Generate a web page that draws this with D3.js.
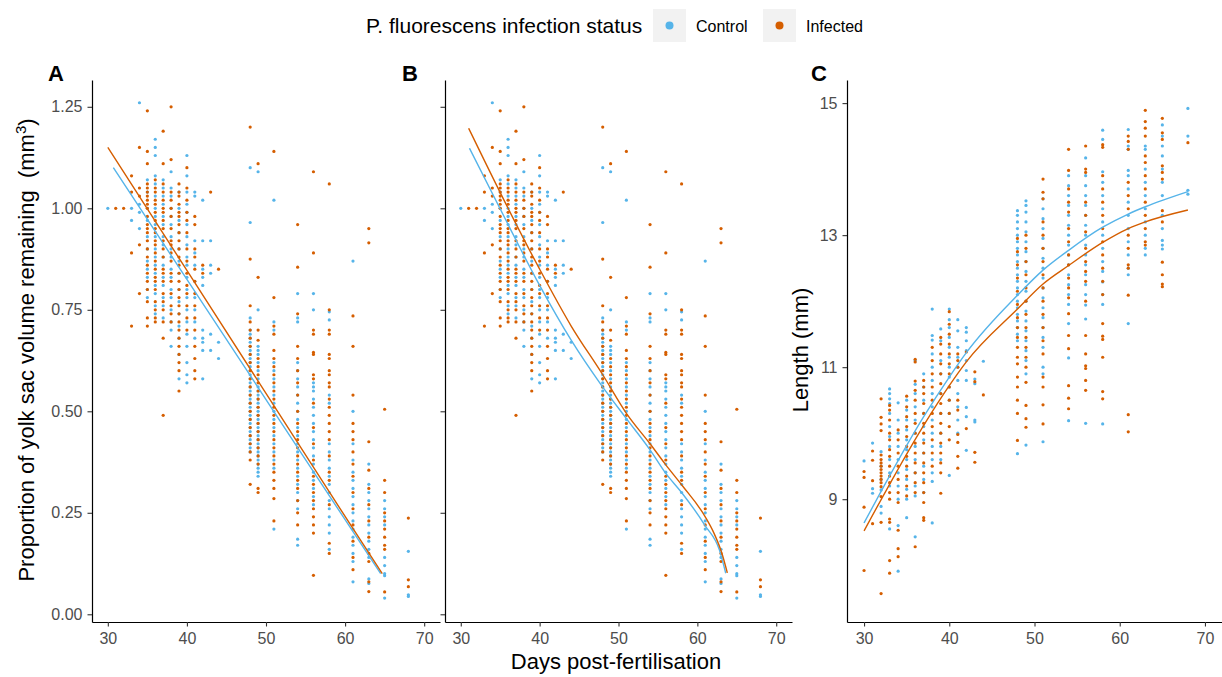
<!DOCTYPE html>
<html>
<head>
<meta charset="utf-8">
<script src="https://cdn.jsdelivr.net/npm/d3@7"></script>
<style>
  html, body { margin: 0; padding: 0; background: #ffffff; }
  svg { display: block; font-family: "Liberation Sans", Arial, sans-serif; }
</style>
</head>
<body>
<svg id="chart" width="1222" height="677"></svg>
<script>
// Sampling days (days post-fertilisation)
const days = [30, 31, 32, 33, 34, 35, 36, 37, 38, 39, 40, 41, 42, 43, 44, 48, 49, 51, 54, 56, 58, 61, 63, 65, 68];

// Proportion of yolk sac remaining, one list per sampling day
const yolkControl = [
  [1.00], [], [], [1.00, 0.97], [1.26, 1.01, 0.99, 0.95],
  [1.07, 1.04, 1.00, 0.97, 0.93, 0.90, 0.87, 0.85, 0.83, 0.80, 0.78],
  [1.17, 1.15, 1.13, 1.08, 1.06, 1.03, 1.00, 0.98, 0.96, 0.93, 0.90, 0.88, 0.86, 0.84, 0.81, 0.79, 0.76, 0.74],
  [1.07, 1.05, 1.03, 1.01, 0.98, 0.96, 0.93, 0.91, 0.88, 0.86, 0.83, 0.81, 0.78, 0.76, 0.73],
  [1.09, 1.05, 1.03, 1.00, 0.98, 0.96, 0.93, 0.90, 0.88, 0.85, 0.83, 0.80, 0.78, 0.75, 0.72, 0.70, 0.66],
  [1.04, 1.00, 0.97, 0.94, 0.90, 0.87, 0.84, 0.80, 0.77, 0.74, 0.71, 0.68, 0.64, 0.58],
  [1.13, 1.08, 1.04, 1.01, 0.99, 0.96, 0.93, 0.91, 0.88, 0.86, 0.83, 0.80, 0.78, 0.75, 0.72, 0.69, 0.66, 0.62, 0.59, 0.57],
  [1.04, 1.03, 0.92, 0.89, 0.86, 0.82, 0.78, 0.75, 0.72, 0.68],
  [1.02, 0.92, 0.85, 0.83, 0.81, 0.70, 0.68, 0.67, 0.65, 0.58],
  [0.92, 0.86, 0.84, 0.69, 0.65],
  [0.67, 0.63],
  [1.10, 0.965, 0.73, 0.70, 0.69, 0.68, 0.67, 0.66, 0.65, 0.64, 0.63, 0.62, 0.61, 0.60, 0.59, 0.58, 0.57, 0.56, 0.55, 0.54, 0.53, 0.52, 0.51, 0.50, 0.49, 0.48, 0.47, 0.46, 0.45, 0.44, 0.43, 0.42, 0.41, 0.40],
  [1.09, 0.75, 0.66, 0.65, 0.64, 0.62, 0.60, 0.58, 0.56, 0.55, 0.54, 0.53, 0.52, 0.51, 0.50, 0.49, 0.48, 0.47, 0.46, 0.45, 0.44, 0.43, 0.42, 0.41, 0.40, 0.39, 0.38, 0.37, 0.36, 0.35, 0.34],
  [1.02, 0.72, 0.70, 0.62, 0.60, 0.58, 0.56, 0.54, 0.52, 0.50, 0.48, 0.46, 0.44, 0.42, 0.40, 0.38, 0.36, 0.21],
  [0.79, 0.73, 0.72, 0.62, 0.60, 0.58, 0.56, 0.54, 0.52, 0.50, 0.48, 0.46, 0.44, 0.42, 0.40, 0.38, 0.36, 0.34, 0.32, 0.30, 0.28, 0.26, 0.185, 0.17],
  [0.79, 0.75, 0.57, 0.56, 0.55, 0.53, 0.51, 0.49, 0.47, 0.45, 0.43, 0.41, 0.39, 0.37, 0.35, 0.33, 0.31, 0.29, 0.27],
  [0.745, 0.725, 0.54, 0.52, 0.42, 0.40, 0.38, 0.36, 0.34, 0.32, 0.30, 0.28, 0.26, 0.24, 0.22, 0.20, 0.16],
  [0.87, 0.50, 0.42, 0.38, 0.35, 0.33, 0.31, 0.29, 0.27, 0.25, 0.23, 0.21, 0.19, 0.17, 0.15, 0.13, 0.08],
  [0.37, 0.32, 0.30, 0.28, 0.26, 0.24, 0.22, 0.20, 0.18, 0.16, 0.14, 0.087, 0.076],
  [0.28, 0.26, 0.24, 0.22, 0.14, 0.12, 0.10, 0.095, 0.04],
  [0.155, 0.048, 0.044]
];
const yolkInfected = [
  [], [1.00], [1.00], [1.08, 1.04, 0.89, 0.71], [1.15, 1.05, 1.03, 0.91, 0.79],
  [1.24, 1.14, 1.11, 1.06, 1.05, 1.04, 1.03, 1.02, 1.01, 1.00, 0.98, 0.96, 0.95, 0.94, 0.92, 0.90, 0.88, 0.86, 0.84, 0.82, 0.80, 0.77, 0.73, 0.71],
  [1.07, 1.05, 1.04, 1.02, 1.01, 0.99, 0.97, 0.95, 0.94, 0.92, 0.91, 0.89, 0.87, 0.85, 0.83, 0.82, 0.80, 0.77, 0.75, 0.73, 0.72],
  [1.19, 1.11, 1.06, 1.04, 1.02, 1.00, 0.99, 0.97, 0.95, 0.92, 0.90, 0.88, 0.85, 0.84, 0.82, 0.79, 0.77, 0.75, 0.72, 0.68, 0.49],
  [1.25, 1.12, 1.04, 1.02, 1.00, 0.98, 0.95, 0.92, 0.91, 0.89, 0.87, 0.84, 0.82, 0.79, 0.76, 0.74, 0.72],
  [1.06, 1.04, 1.03, 1.01, 0.99, 0.98, 0.96, 0.94, 0.92, 0.90, 0.88, 0.86, 0.84, 0.82, 0.80, 0.78, 0.76, 0.74, 0.72, 0.70, 0.68, 0.66, 0.64, 0.62, 0.60, 0.55],
  [1.10, 1.05, 1.02, 0.99, 0.97, 0.94, 0.90, 0.87, 0.84, 0.81, 0.79, 0.76, 0.73, 0.70],
  [0.98, 0.96, 0.90, 0.88, 0.85, 0.82, 0.79, 0.76, 0.73, 0.70, 0.66, 0.63, 0.60, 0.58],
  [0.86, 0.84],
  [1.04],
  [0.85],
  [1.20, 0.875, 0.76, 0.72, 0.70, 0.68, 0.66, 0.64, 0.62, 0.60, 0.58, 0.56, 0.54, 0.52, 0.50, 0.48, 0.46, 0.44, 0.42, 0.40, 0.38, 0.32],
  [1.11, 0.83, 0.70, 0.675, 0.63, 0.61, 0.59, 0.57, 0.55, 0.53, 0.51, 0.49, 0.47, 0.45, 0.43, 0.41, 0.39, 0.37, 0.31, 0.30],
  [1.14, 0.78, 0.71, 0.69, 0.65, 0.63, 0.61, 0.59, 0.57, 0.55, 0.53, 0.51, 0.49, 0.47, 0.45, 0.43, 0.41, 0.39, 0.37, 0.35, 0.33, 0.31, 0.285, 0.23],
  [0.96, 0.855, 0.74, 0.66, 0.63, 0.60, 0.57, 0.54, 0.50, 0.47, 0.45, 0.43, 0.41, 0.39, 0.37, 0.35, 0.33, 0.31, 0.28, 0.25, 0.22],
  [1.09, 0.89, 0.70, 0.69, 0.645, 0.64, 0.59, 0.58, 0.52, 0.46, 0.42, 0.38, 0.34, 0.32, 0.30, 0.28, 0.26, 0.24, 0.22, 0.20, 0.096],
  [1.06, 0.75, 0.70, 0.69, 0.64, 0.63, 0.60, 0.59, 0.57, 0.56, 0.53, 0.51, 0.49, 0.47, 0.45, 0.43, 0.39, 0.35, 0.33, 0.27, 0.175, 0.15],
  [0.735, 0.66, 0.54, 0.47, 0.45, 0.43, 0.40, 0.37, 0.34, 0.30, 0.26, 0.22, 0.18, 0.14, 0.11],
  [0.95, 0.915, 0.425, 0.355, 0.31, 0.27, 0.23, 0.19, 0.15, 0.13, 0.08, 0.056],
  [0.505, 0.33, 0.30, 0.25, 0.23, 0.21, 0.19, 0.17, 0.16, 0.055],
  [0.237, 0.085, 0.068]
];

// Body length (mm), one list per sampling day
const lengthControl = [
  [9.58], [9.85, 9.16, 9.09], [9.72, 9.50, 9.30, 9.14, 8.89, 8.79],
  [10.67, 10.60, 10.52, 10.45, 10.30, 10.10, 9.95, 9.80, 9.60, 9.40, 9.20, 8.55],
  [10.46, 10.20, 10.00, 9.80, 9.60, 9.40, 9.20, 9.00, 8.60, 7.91],
  [10.50, 10.35, 10.20, 10.05, 9.90, 9.75, 9.60, 9.45, 9.30, 9.15, 9.00, 8.72],
  [11.10, 10.74, 10.60, 10.40, 10.20, 10.00, 9.80, 9.60, 9.40, 9.20, 9.05, 8.43],
  [10.90, 10.70, 10.50, 10.30, 10.10, 9.90, 9.70, 9.50, 9.30, 9.10],
  [11.88, 11.48, 11.41, 11.20, 11.00, 10.80, 10.60, 10.40, 10.20, 10.00, 9.80, 9.60, 9.40, 9.27, 8.64],
  [11.58, 11.40, 11.10, 10.90, 10.60, 10.30, 10.00, 9.80, 9.60],
  [11.88, 11.72, 11.60, 11.45, 11.30, 11.15, 11.00, 10.85, 10.70, 10.50, 10.30, 9.36],
  [11.72, 11.55, 11.30, 11.15, 11.00, 10.80, 10.60, 10.40, 10.20, 10.00],
  [11.60, 11.53, 11.40, 11.25, 11.10, 10.95, 10.80, 10.39, 10.25, 9.74],
  [10.82, 10.75, 10.20, 10.17],
  [11.09],
  [13.37, 13.30, 13.20, 13.10, 13.00, 12.90, 12.80, 12.70, 12.60, 12.50, 12.40, 12.30, 12.20, 12.10, 12.00, 11.90, 11.80, 11.70, 11.60, 11.50, 11.40, 9.69],
  [13.52, 13.45, 13.35, 13.20, 13.05, 12.90, 12.75, 12.60, 12.45, 12.30, 12.15, 12.00, 11.85, 11.70, 11.55, 11.40, 11.25, 11.10, 10.90, 9.82],
  [13.55, 13.40, 13.25, 13.10, 12.95, 12.80, 12.65, 12.50, 12.35, 12.20, 12.05, 11.90, 11.75, 11.60, 11.45, 11.30, 11.00, 10.90, 9.87],
  [13.90, 13.75, 13.60, 13.45, 13.30, 13.15, 13.00, 12.85, 12.70, 12.55, 12.40, 12.25, 12.10, 11.95, 11.66, 11.14, 10.19],
  [14.17, 13.90, 13.75, 13.60, 13.45, 13.30, 13.15, 13.00, 12.85, 12.70, 12.55, 12.40, 12.25, 12.10, 11.94, 11.73, 10.15],
  [14.59, 14.45, 13.96, 13.80, 13.60, 13.40, 13.20, 13.00, 12.80, 12.60, 12.45, 12.29, 12.10, 11.95, 10.14],
  [14.60, 14.35, 14.30, 13.98, 13.90, 13.70, 13.50, 13.30, 13.10, 12.90, 12.70, 12.50, 12.40, 11.66],
  [14.35, 14.30, 14.00, 13.80, 13.60, 13.40, 13.20, 13.00, 12.80, 12.70],
  [14.67, 14.50, 14.35, 14.20, 14.00, 13.80, 13.60, 13.30, 13.10, 12.92, 12.85, 12.79],
  [14.92, 14.50, 13.68, 13.62]
];
const lengthInfected = [
  [9.42, 9.33, 8.88, 7.92], [9.73, 9.59, 9.28, 8.63],
  [10.52, 10.24, 10.14, 10.04, 9.67, 9.60, 9.55, 9.50, 9.45, 9.40, 9.35, 9.30, 9.25, 9.19, 9.04, 8.65, 7.57],
  [10.42, 10.35, 10.20, 10.00, 9.90, 9.75, 9.65, 9.50, 9.35, 9.25, 9.10, 9.00, 8.70, 8.65, 8.07, 7.88],
  [10.05, 9.90, 9.70, 9.50, 9.30, 9.10, 8.95, 8.53, 8.25, 8.13],
  [10.56, 10.40, 10.25, 10.10, 9.95, 9.80, 9.65, 9.50, 9.35, 9.20, 9.05],
  [11.12, 11.08, 10.79, 10.65, 10.50, 10.30, 10.15, 10.00, 9.85, 9.70, 9.55, 9.40, 9.25, 9.10, 8.28],
  [10.80, 10.70, 10.60, 10.45, 10.30, 10.15, 10.00, 9.85, 9.70, 9.55, 9.40, 9.25, 9.10, 8.95, 8.72, 8.68],
  [11.30, 11.10, 10.90, 10.70, 10.50, 10.30, 10.10, 9.90, 9.70, 9.50],
  [11.45, 11.35, 11.20, 11.05, 10.90, 10.75, 10.60, 10.45, 10.30, 10.15, 10.00, 9.85, 9.70, 9.55, 9.40, 9.09],
  [11.84, 11.65, 11.50, 11.35, 11.20, 11.05, 10.90, 10.70, 10.50, 10.30, 10.10, 9.90],
  [11.20, 11.10, 11.00, 10.50, 10.35, 9.98, 9.86, 9.65, 9.47],
  [11.23, 10.07],
  [10.93, 10.78, 9.71, 9.56],
  [10.58],
  [12.95, 12.75, 12.55, 12.35, 12.15, 11.95, 11.75, 11.60, 11.45, 11.30, 11.15, 11.05, 10.85, 10.70, 10.50, 10.30, 9.89],
  [13.00, 12.80, 12.60, 12.40, 12.20, 12.00, 11.80, 11.60, 11.45, 11.30, 11.15, 11.00, 10.77, 10.42, 10.22, 10.09],
  [13.85, 13.65, 13.55, 13.20, 13.00, 12.80, 12.60, 12.40, 12.20, 12.00, 11.80, 11.60, 11.40, 11.20, 10.85, 10.70, 10.43, 10.14],
  [14.30, 13.98, 13.70, 13.50, 13.35, 13.10, 12.90, 12.70, 12.55, 12.35, 12.20, 12.05, 11.81, 11.48, 11.28, 10.72, 10.53, 10.37],
  [14.35, 14.00, 13.95, 13.50, 13.30, 13.05, 12.80, 12.60, 12.45, 12.30, 12.00, 11.48, 11.20, 11.02, 10.98, 10.80, 10.65],
  [14.37, 14.33, 13.90, 13.70, 13.50, 13.30, 13.10, 12.90, 12.70, 12.50, 12.30, 12.10, 11.66, 11.47, 11.42, 11.15, 10.63, 10.52],
  [14.50, 14.42, 14.30, 13.80, 13.60, 13.40, 13.00, 12.80, 12.55, 12.50, 12.09, 10.28, 10.02],
  [14.89, 14.72, 14.62, 14.50, 14.20, 14.10, 13.90, 13.70, 13.50, 13.30, 13.10, 12.90, 12.85],
  [14.77, 14.55, 14.45, 14.05, 13.95, 13.85, 13.37, 13.20, 12.59, 12.40, 12.26, 12.22],
  [14.40]
];

// Fitted trends: [day, predicted value]
const fitA_control  = [[30.7, 1.10], [40, 0.825], [50, 0.529], [60, 0.233], [64.5, 0.10]];
const fitA_infected = [[30.0, 1.15], [40, 0.847], [50, 0.544], [60, 0.241], [64.7, 0.10]];
const fitB_control  = [[31.1, 1.148], [36, 0.96], [40, 0.81], [44, 0.675], [47.8, 0.565], [51, 0.482], [54, 0.405], [56, 0.347], [58, 0.30], [61, 0.218], [62.8, 0.158], [63.6, 0.101]];
const fitB_infected = [[31.0, 1.197], [36, 1.0], [40, 0.85], [44, 0.71], [48, 0.59], [51, 0.495], [54, 0.42], [56, 0.368], [58, 0.319], [61, 0.24], [62.1, 0.20], [63.1, 0.151], [63.8, 0.102]];
const fitC_control  = [[30, 8.64], [37, 10.25], [40, 10.85], [42, 11.22], [48, 12.09], [51, 12.47], [54, 12.77], [58, 13.12], [61, 13.32], [63, 13.43], [68, 13.66]];
const fitC_infected = [[30, 8.52], [37, 10.12], [40, 10.72], [42, 11.08], [48, 11.88], [51, 12.26], [54, 12.54], [58, 12.89], [61, 13.10], [63, 13.20], [68, 13.38]];

const xTicks = [30, 40, 50, 60, 70];
const yolkTicks = [0, 0.25, 0.5, 0.75, 1.0, 1.25];
const lengthTicks = [9, 11, 13, 15];

const groups = ["Control", "Infected"];
const colour = d3.scaleOrdinal().domain(groups).range(["#56B4E9", "#D55E00"]);

const svg = d3.select("#chart");
svg.append("rect").attr("width", 1222).attr("height", 677).attr("fill", "#ffffff");

// flatten per-day lists into point records, day by day
function toPoints(ctrl, inf) {
  const out = [];
  days.forEach((d, i) => {
    ctrl[i].forEach(v => out.push({ day: d, value: v, group: "Control" }));
    inf[i].forEach(v => out.push({ day: d, value: v, group: "Infected" }));
  });
  return out;
}
const yolkPoints = toPoints(yolkControl, yolkInfected);
const lengthPoints = toPoints(lengthControl, lengthInfected);

const panelTop = 80, panelBottom = 622;
const panels = [
  { id: "A", left: 92, right: 440, yDomain: [-0.019, 1.316], ticks: yolkTicks, fmt: d3.format(".2f"), labels: true,
    data: yolkPoints, fits: [fitA_control, fitA_infected], curve: d3.curveLinear, tagX: 48 },
  { id: "B", left: 445, right: 792, yDomain: [-0.019, 1.316], ticks: yolkTicks, fmt: d3.format(".2f"), labels: false,
    data: yolkPoints, fits: [fitB_control, fitB_infected], curve: d3.curveMonotoneX, tagX: 402 },
  { id: "C", left: 847, right: 1222, yDomain: [7.14, 15.35], ticks: lengthTicks, fmt: d3.format("d"), labels: true,
    data: lengthPoints, fits: [fitC_control, fitC_infected], curve: d3.curveMonotoneX, tagX: 811 }
];

panels.forEach(p => {
  const x = d3.scaleLinear().domain([28, 72]).range([p.left, p.right]);
  const y = d3.scaleLinear().domain(p.yDomain).range([panelBottom, panelTop]);
  const g = svg.append("g");

  // scatter
  g.append("g").selectAll("circle").data(p.data).join("circle")
    .attr("cx", d => x(d.day)).attr("cy", d => y(d.value))
    .attr("r", 1.6).attr("fill", d => colour(d.group));

  // fitted trends
  const line = d3.line().x(d => x(d[0])).y(d => y(d[1])).curve(p.curve);
  p.fits.forEach((f, i) => {
    g.append("path").datum(f).attr("d", line)
      .attr("fill", "none").attr("stroke", colour(groups[i])).attr("stroke-width", 1.4);
  });

  // axes
  const xa = g.append("g").attr("transform", `translate(0,${panelBottom})`)
    .call(d3.axisBottom(x).tickValues(xTicks).tickSize(4.5).tickSizeOuter(0).tickPadding(6));
  const ya = g.append("g").attr("transform", `translate(${p.left},0)`)
    .call(d3.axisLeft(y).tickValues(p.ticks).tickFormat(p.labels ? p.fmt : "").tickSize(4.5).tickSizeOuter(0).tickPadding(5));
  [xa, ya].forEach(a => {
    a.select(".domain").attr("stroke", "#000").attr("stroke-width", 1.2);
    a.selectAll(".tick line").attr("stroke", "#333").attr("stroke-width", 1.1);
    a.selectAll(".tick text").attr("fill", "#4D4D4D").style("font-size", "16px")
      .style("font-family", "'Liberation Sans', Arial, sans-serif");
  });

  // panel tag
  svg.append("text").attr("x", p.tagX).attr("y", 81).text(p.id)
    .style("font-size", "22px").style("font-weight", "bold").attr("fill", "#000");
});

// axis titles
svg.append("text").attr("x", 616).attr("y", 669).attr("text-anchor", "middle")
  .style("font-size", "22px").attr("fill", "#000").text("Days post-fertilisation");

const yt = svg.append("text").attr("transform", "translate(34,350) rotate(-90)")
  .attr("text-anchor", "middle").style("font-size", "22px").attr("fill", "#000")
  .attr("xml:space", "preserve");
yt.append("tspan").text("Proportion of yolk sac volume remaining  (mm");
yt.append("tspan").attr("baseline-shift", "super").style("font-size", "15px").text("3");
yt.append("tspan").text(")");

svg.append("text").attr("transform", "translate(808,350) rotate(-90)")
  .attr("text-anchor", "middle").style("font-size", "22px").attr("fill", "#000").text("Length (mm)");

// legend
const legend = svg.append("g");
legend.append("text").attr("x", 366).attr("y", 33).style("font-size", "21px").attr("fill", "#000")
  .text("P. fluorescens infection status");
const keyX = [653, 763];
groups.forEach((grp, i) => {
  legend.append("rect").attr("x", keyX[i]).attr("y", 9).attr("width", 33).attr("height", 33).attr("fill", "#F2F2F2");
  legend.append("circle").attr("cx", keyX[i] + 16.5).attr("cy", 25.5).attr("r", 4).attr("fill", colour(grp));
  legend.append("text").attr("x", keyX[i] + 43).attr("y", 31.5).style("font-size", "16px").attr("fill", "#000").text(grp);
});
</script>
</body>
</html>
